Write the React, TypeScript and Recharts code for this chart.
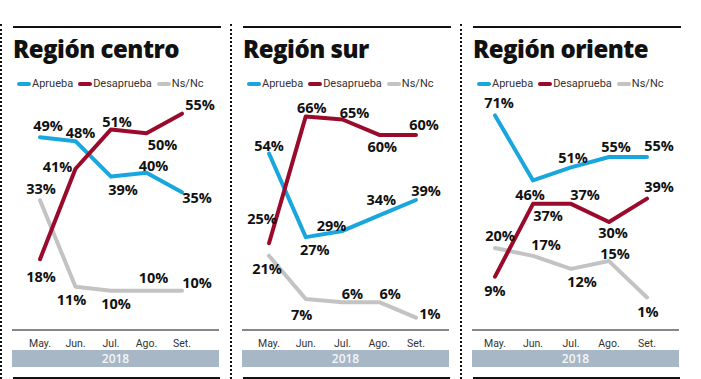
import React from 'react';
import { LineChart, Line, XAxis, YAxis, LabelList } from 'recharts';

const months = ['May.', 'Jun.', 'Jul.', 'Ago.', 'Set.'];
const yearLabel = '2018';
const seriesNames = ['Aprueba', 'Desaprueba', 'Ns/Nc'];

const centroAprueba = [49, 48, 39, 40, 35];
const centroDesaprueba = [18, 41, 51, 50, 55];
const centroNsNc = [33, 11, 10, 10, 10];

const surAprueba = [54, 27, 29, 34, 39];
const surDesaprueba = [25, 66, 65, 60, 60];
const surNsNc = [21, 7, 6, 6, 1];

const orienteAprueba = [71, 46, 51, 55, 55];
const orienteDesaprueba = [9, 37, 37, 30, 39];
const orienteNsNc = [20, 17, 12, 15, 1];

const COLORS = { a: '#19a6df', d: '#9a0b2b', n: '#c3c3c3' };
const LINE_W = 4;

type Off = [number, number][];

interface PanelCfg {
  title: string;
  left: number;
  a: number[];
  d: number[];
  n: number[];
  domain: [number, number];
  marginTop: number;
  padL: number;
  padR: number;
  offA: Off;
  offD: Off;
  offN: Off;
}

const panels: PanelCfg[] = [
  {
    title: 'Región centro',
    left: 0,
    a: centroAprueba,
    d: centroDesaprueba,
    n: centroNsNc,
    domain: [0, 60],
    marginTop: 94,
    padL: 28,
    padR: 37,
    offA: [[8, -12], [5, -9], [12, 13], [7, -7], [15, 5]],
    offD: [[1, 17], [-18, -2], [6, -8], [16, 11], [18, -9]],
    offN: [[1, -12], [-4, 13], [5, 13], [7, -13], [15, -8]],
  },
  {
    title: 'Región sur',
    left: 230,
    a: surAprueba,
    d: surDesaprueba,
    n: surNsNc,
    domain: [-3, 70],
    marginTop: 104,
    padL: 27,
    padR: 33,
    offA: [[0, -8], [9, 12], [-11, -5], [2, -16], [10, -9]],
    offD: [[-7, -25], [6, -9], [12, -7], [3, 12], [8, -10]],
    offN: [[-2, 13], [-4, 15], [10, -9], [11, -9], [14, -4]],
  },
  {
    title: 'Región oriente',
    left: 460,
    a: orienteAprueba,
    d: orienteDesaprueba,
    n: orienteNsNc,
    domain: [-11.5, 80],
    marginTop: 92,
    padL: 23,
    padR: 32,
    offA: [[4, -13], [-3, 14], [2, -10], [7, -11], [12, -12]],
    offD: [[0, 14], [15, 12], [14, -9], [4, 10], [12, -12]],
    offN: [[5, -13], [13, -11], [11, 13], [6, -8], [1, 14]],
  },
];

const labelRenderer = (off: Off) => (props: any) => {
  const { x, y, value, index } = props;
  const o = off[index] || [0, 0];
  return (
    <text
      x={x + o[0]}
      y={y + o[1]}
      textAnchor="middle"
      dominantBaseline="central"
      fontFamily="'Open Sans', sans-serif"
      fontWeight={700}
      fontSize={14.5}
      fill="#111"
    >
      {value}%
    </text>
  );
};

const MonthTick = (props: any) => {
  const { x, y, payload } = props;
  return (
    <text
      x={x}
      y={y}
      dy={8.5}
      textAnchor="middle"
      fontFamily="Roboto, sans-serif"
      fontSize={10.5}
      fill="#333"
    >
      {payload.value}
    </text>
  );
};

const LegendItem = ({ color, text }: { color: string; text: string }) => (
  <span style={{ display: 'inline-flex', alignItems: 'center', marginRight: 5 }}>
    <span
      style={{
        display: 'inline-block',
        width: 14,
        height: 4,
        borderRadius: 2,
        background: color,
        marginRight: 1,
      }}
    />
    <span>{text}</span>
  </span>
);

const Panel = ({ cfg }: { cfg: PanelCfg }) => {
  const data = months.map((m, i) => ({ m, a: cfg.a[i], d: cfg.d[i], n: cfg.n[i] }));
  const L = cfg.left;
  return (
    <>
      <div style={{ position: 'absolute', left: L + 13, top: 26, width: 208, height: 1.5, background: '#111' }} />
      <div
        style={{
          position: 'absolute',
          left: L + 13,
          top: 33,
          fontFamily: "'Open Sans', sans-serif",
          fontWeight: 800,
          fontSize: 24,
          letterSpacing: -0.5,
          color: '#111',
          whiteSpace: 'nowrap',
          lineHeight: '32px',
        }}
      >
        {cfg.title}
      </div>
      <div
        style={{
          position: 'absolute',
          left: L + 17,
          top: 77,
          fontFamily: 'Roboto, sans-serif',
          fontSize: 11,
          color: '#333',
          whiteSpace: 'nowrap',
          lineHeight: '14px',
          display: 'flex',
          alignItems: 'center',
        }}
      >
        <LegendItem color={COLORS.a} text={seriesNames[0]} />
        <LegendItem color={COLORS.d} text={seriesNames[1]} />
        <LegendItem color={COLORS.n} text={seriesNames[2]} />
      </div>
      <div style={{ position: 'absolute', left: L, top: 0 }}>
        <LineChart
          width={230}
          height={379}
          data={data}
          margin={{ top: cfg.marginTop, right: 11, bottom: 19, left: 12 }}
        >
          <XAxis
            dataKey="m"
            height={30}
            axisLine={{ stroke: '#111', strokeWidth: 1.2 }}
            tickLine={false}
            tick={<MonthTick />}
            padding={{ left: cfg.padL, right: cfg.padR }}
            interval={0}
          />
          <YAxis hide domain={cfg.domain} type="number" allowDataOverflow />
          <Line
            dataKey="n"
            stroke={COLORS.n}
            strokeWidth={LINE_W}
            dot={false}
            isAnimationActive={false}
            strokeLinejoin="round"
            strokeLinecap="round"
          >
            <LabelList dataKey="n" content={labelRenderer(cfg.offN)} />
          </Line>
          <Line
            dataKey="a"
            stroke={COLORS.a}
            strokeWidth={LINE_W}
            dot={false}
            isAnimationActive={false}
            strokeLinejoin="round"
            strokeLinecap="round"
          >
            <LabelList dataKey="a" content={labelRenderer(cfg.offA)} />
          </Line>
          <Line
            dataKey="d"
            stroke={COLORS.d}
            strokeWidth={LINE_W}
            dot={false}
            isAnimationActive={false}
            strokeLinejoin="round"
            strokeLinecap="round"
          >
            <LabelList dataKey="d" content={labelRenderer(cfg.offD)} />
          </Line>
        </LineChart>
      </div>
      <div
        style={{
          position: 'absolute',
          left: L + 12,
          top: 350,
          width: 207,
          height: 17,
          background: '#a8b7c5',
          color: '#f4f6f8',
          fontFamily: "'Open Sans', sans-serif",
          fontWeight: 600,
          fontSize: 12,
          lineHeight: '17px',
          textAlign: 'center',
        }}
      >
        {yearLabel}
      </div>
      <div style={{ position: 'absolute', left: L + 13, top: 377, width: 207, height: 1.5, background: '#111' }} />
    </>
  );
};

const DottedV = ({ x }: { x: number }) => (
  <div
    style={{
      position: 'absolute',
      left: x,
      top: 24,
      width: 0,
      height: 355,
      borderLeft: '2px dotted #111',
    }}
  />
);

export default function App() {
  return (
    <div
      style={{
        position: 'absolute',
        left: 0,
        top: 0,
        width: 701,
        height: 379,
        background: '#fff',
        overflow: 'hidden',
      }}
    >
      <DottedV x={0} />
      <DottedV x={229.5} />
      <DottedV x={459.5} />
      {panels.map((p) => (
        <Panel key={p.title} cfg={p} />
      ))}
    </div>
  );
}
